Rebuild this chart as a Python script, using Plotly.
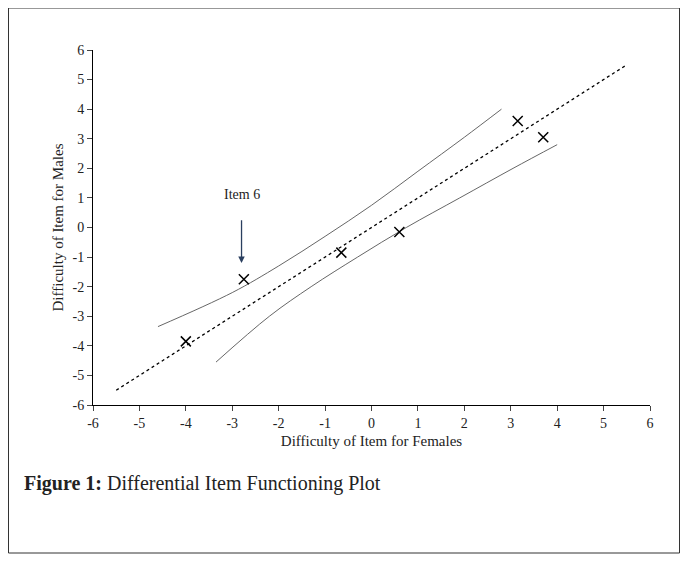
import plotly.graph_objects as go

item_x = [-4.0, -2.75, -0.65, 0.6, 3.15, 3.7]
item_y = [-3.85, -1.75, -0.85, -0.15, 3.6, 3.05]
ref_x = [-5.5, 5.5]
ref_y = [-5.5, 5.5]
upper_x = [-4.6, -3.0, -2.0, -1.0, 0.0, 1.0, 2.0, 2.8]
upper_y = [-3.35, -2.2, -1.3, -0.3, 0.75, 1.9, 3.05, 4.0]
lower_x = [-3.35, -2.2, -1.3, -0.3, 0.75, 1.9, 3.05, 4.0]
lower_y = [-4.55, -3.0, -2.0, -1.0, 0.0, 1.0, 2.0, 2.8]
ticks = list(range(-6, 7))
tick_labels = [str(t) for t in ticks]

W, H = 672, 547
L, T, PW, PH = 85, 42, 557, 355
R, B = W - L - PW, H - T - PH

font = dict(family="Liberation Serif", size=14, color="#222")
fig = go.Figure()
fig.add_trace(go.Scatter(x=ref_x, y=ref_y, mode="lines", line=dict(color="black", width=1.3, dash="dot")))
fig.add_trace(go.Scatter(x=upper_x, y=upper_y, mode="lines", line=dict(color="#555", width=0.9, shape="spline")))
fig.add_trace(go.Scatter(x=lower_x, y=lower_y, mode="lines", line=dict(color="#555", width=0.9, shape="spline")))
fig.add_trace(go.Scatter(x=item_x, y=item_y, mode="markers",
                         marker=dict(symbol="x-thin", size=10, line=dict(width=1.5, color="black"))))
fig.add_annotation(x=-2.8, y=-1.2, ax=-2.8, ay=0.3, xref="x", yref="y", axref="x", ayref="y",
                   showarrow=True, arrowhead=2, arrowsize=1, arrowwidth=1.3, text="")
fig.add_annotation(x=-2.8, y=1.1, text="Item 6", showarrow=False, font=font)
fig.add_annotation(x=(14 - L) / PW, y=-(489 - (T + PH)) / PH, xref="paper", yref="paper",
                   text="<b>Figure 1:</b> Differential Item Functioning Plot",
                   showarrow=False, xanchor="left", font=dict(family="Liberation Serif", size=20, color="#222"))
fig.add_shape(type="rect", xref="paper", yref="paper", x0=(0.5 - L) / PW, x1=(W - 0.5 - L) / PW,
              y0=-(545 - (T + PH)) / PH, y1=1 + T / PH, line=dict(color="#333", width=1))
fig.update_layout(
    width=W, height=H, showlegend=False, plot_bgcolor="white", paper_bgcolor="white",
    margin=dict(l=L, r=R, t=T, b=B), font=font,
    xaxis=dict(range=[-6, 6], tickvals=ticks, ticktext=tick_labels, showline=True, linecolor="black",
               ticks="outside", ticklen=5, showgrid=False, zeroline=False,
               title=dict(text="Difficulty of Item for Females", standoff=5, font=dict(size=15))),
    yaxis=dict(range=[-6, 6], tickvals=ticks, ticktext=tick_labels, showline=True, linecolor="black",
               ticks="outside", ticklen=5, showgrid=False, zeroline=False,
               title=dict(text="Difficulty of Item for Males", standoff=5, font=dict(size=15))),
)
fig.write_html("out.html")
